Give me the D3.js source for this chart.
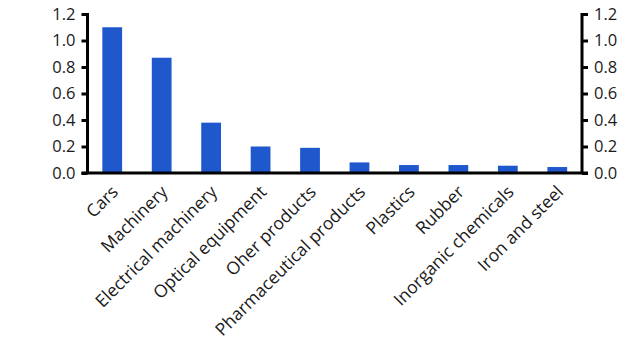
<!DOCTYPE html>
<html>
<head>
<meta charset="utf-8">
<script src="https://cdn.jsdelivr.net/npm/d3@7"></script>
<style>
  body { margin: 0; background: #fff; }
  text { font-family: "Open Sans", "Noto Sans", sans-serif; fill: #1a1a1a; }
</style>
</head>
<body>
<div id="chart"></div>
<script>
const categories = ["Cars", "Machinery", "Electrical machinery", "Optical equipment", "Oher products",
  "Pharmaceutical products", "Plastics", "Rubber", "Inorganic chemicals", "Iron and steel"];
const values = [1.10, 0.87, 0.38, 0.20, 0.19, 0.08, 0.06, 0.06, 0.055, 0.045];
const yTicks = [0, 0.2, 0.4, 0.6, 0.8, 1.0, 1.2];

const width = 629, height = 354;
const margin = { top: 14, right: 47, bottom: 181, left: 87.5 };

const svg = d3.select("#chart").append("svg")
  .attr("width", width)
  .attr("height", height);

const x = d3.scaleBand()
  .domain(categories)
  .range([margin.left, width - margin.right])
  .paddingInner(0.6)
  .paddingOuter(0.3);

const y = d3.scaleLinear()
  .domain([0, 1.2])
  .range([height - margin.bottom, margin.top]);

// bars
svg.append("g")
  .selectAll("rect")
  .data(values)
  .join("rect")
  .attr("x", (d, i) => x(categories[i]))
  .attr("y", d => y(d))
  .attr("width", x.bandwidth())
  .attr("height", d => y(0) - y(d))
  .attr("fill", "#1f58cc");

// axes
const fmt = d3.format(".1f");
const left = svg.append("g")
  .attr("transform", `translate(${margin.left},0)`)
  .call(d3.axisLeft(y).tickValues(yTicks).tickFormat(fmt).tickSize(6).tickPadding(6));
const right = svg.append("g")
  .attr("transform", `translate(${width - margin.right},0)`)
  .call(d3.axisRight(y).tickValues(yTicks).tickFormat(fmt).tickSize(6).tickPadding(6));

[left, right].forEach(g => {
  g.select(".domain").attr("stroke", "#000").attr("stroke-width", 3)
    .attr("d", `M0,${margin.top - 1}V${y(0)}`);
  g.selectAll(".tick line").attr("stroke", "#000").attr("stroke-width", 3);
  g.selectAll(".tick text").style("font-size", "16.5px").attr("fill", "#1a1a1a");
});

// baseline
svg.append("line")
  .attr("x1", margin.left - 6)
  .attr("x2", width - margin.right + 6)
  .attr("y1", y(0))
  .attr("y2", y(0))
  .attr("stroke", "#000")
  .attr("stroke-width", 3);

// category labels
svg.append("g")
  .selectAll("text")
  .data(categories)
  .join("text")
  .attr("transform", d => `translate(${x(d) + x.bandwidth() / 2 + 7},${y(0) + 20}) rotate(-45)`)
  .attr("text-anchor", "end")
  .style("font-size", "17.5px")
  .text(d => d);
</script>
</body>
</html>
